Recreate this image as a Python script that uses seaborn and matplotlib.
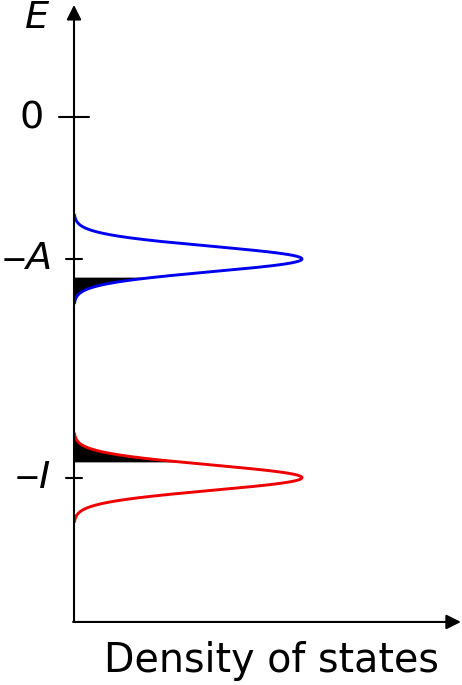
"""
Schematic density of states: two gaussian levels at -A and -I with their
partially filled tails, drawn sideways (energy up, DOS to the right).
"""
import numpy as np
import pandas as pd
import matplotlib
matplotlib.use("Agg")
import matplotlib.pyplot as plt
import seaborn as sns

# Level data (energy in units of A, DOS normalised to peak = 1)
level_names = ["-A", "-I"]
level_centers = [-1.0, -2.54]
level_colors = ["#0000ee", "#ee0000"]
level_width = 0.089          # gaussian sigma
fill_cuts = [-1.127, -2.43]  # edge of the black filled part
fill_below = [True, False]   # blue fills below its cut, red above

tick_positions = [0.0, -1.0, -2.54]
tick_half_len = [0.066, 0.035, 0.035]
tick_letters = ["$0$", "$A$", "$I$"]
tick_signs = ["", "$-$", "$-$"]
letter_right = [-0.136, -0.105, -0.105]
sign_right = [None, -0.215, -0.158]

sns.set_theme(style="white")
plt.rcParams['font.family'] = ['DejaVu Sans']
plt.rcParams['mathtext.fontset'] = 'dejavusans'
plt.rcParams['text.color'] = 'black'

fig = plt.figure(figsize=(4.62, 6.85), dpi=100)
ax = fig.add_axes([0, 0, 1, 1])
ax.set_xlim(-0.3246, 1.7018)
ax.set_ylim(-4.0, 0.824)
ax.axis("off")

energy = np.linspace(-3.5, 0.7, 3000)

for name, center, color, cut, below in zip(level_names, level_centers,
                                          level_colors, fill_cuts, fill_below):
    mask = np.abs(energy - center) < 3.5 * level_width
    e = energy[mask]
    dos = np.exp(-(e - center) ** 2 / (2 * level_width ** 2))
    df = pd.DataFrame({"E": e, "DOS": dos})
    sel = df["E"] <= cut if below else df["E"] >= cut
    ax.fill_betweenx(df.loc[sel, "E"], 0, df.loc[sel, "DOS"],
                     color="black", lw=0)
    sns.lineplot(data=df, x="DOS", y="E", sort=False, estimator=None,
                 orient="y", color=color, lw=2.1, ax=ax)

# axes with arrows
y_bottom = -3.556
ax.annotate("", xy=(0, 0.789), xytext=(0, y_bottom),
            arrowprops=dict(arrowstyle="-|>", mutation_scale=22, lw=1.5,
                            color="black", shrinkA=0, shrinkB=0))
ax.annotate("", xy=(1.697, y_bottom), xytext=(-0.004, y_bottom),
            arrowprops=dict(arrowstyle="-|>", mutation_scale=22, lw=1.5,
                            color="black", shrinkA=0, shrinkB=0))

# ticks crossing the energy axis
for pos, half, let, xr, sgn, xs in zip(tick_positions, tick_half_len,
                                       tick_letters, letter_right,
                                       tick_signs, sign_right):
    ax.plot([-half, half], [pos, pos], color="black", lw=1.5)
    ax.text(xr, pos, let, ha="right", va="center", fontsize=27.5)
    if sgn:
        ax.text(xs, pos, sgn, ha="right", va="center", fontsize=23)

ax.text(-0.105, 0.694, "$E$", ha="right", va="center", fontsize=27.5)
ax.text(0.866, -3.908, "Density of states", ha="center", va="baseline",
        fontsize=28.5)

fig.savefig("out.png", dpi=100)
